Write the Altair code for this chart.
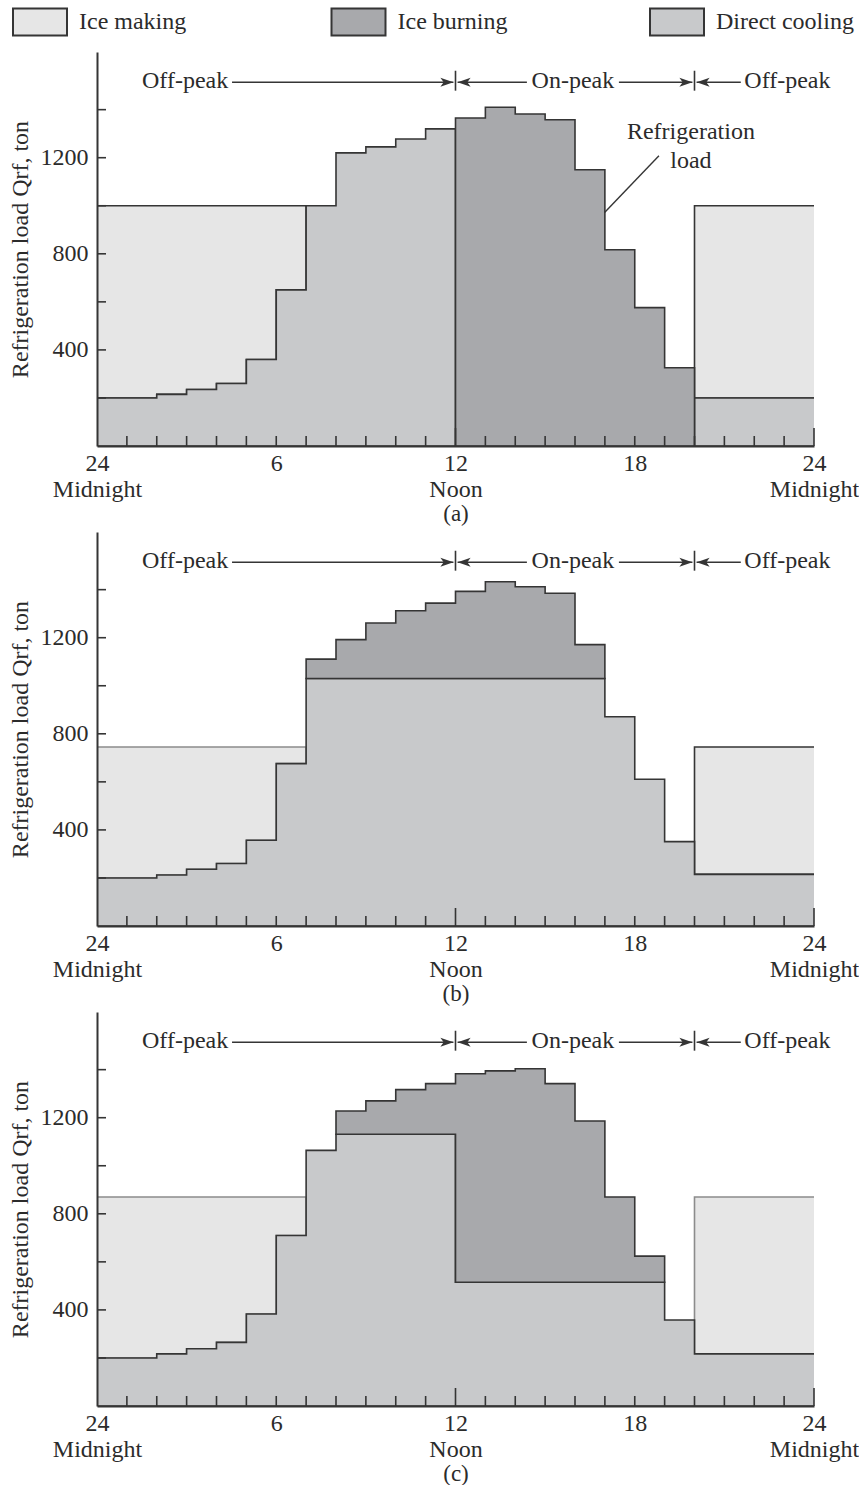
import json
import altair as alt
import pandas as pd

FONT = "Liberation Serif"
INK = "#2b2b2b"
LINE = "#353535"

HOURS = list(range(24))

# ---------------- data (ton) ----------------
LOAD_A = [200, 200, 215, 235, 260, 360, 650, 1000, 1220, 1245, 1278, 1320,
          1365, 1410, 1382, 1358, 1150, 817, 576, 326, 200, 200, 200, 200]
DIRECT_A = [200, 200, 215, 235, 260, 360, 650, 1000, 1220, 1245, 1278, 1320,
            0, 0, 0, 0, 0, 0, 0, 0, 200, 200, 200, 200]
MAKING_A = [1000, 1000, 1000, 1000, 1000, 1000, 1000, None, None, None, None, None,
            None, None, None, None, None, None, None, None, 1000, 1000, 1000, 1000]

LOAD_B = [200, 200, 212, 236, 260, 357, 676, 1111, 1192, 1261, 1312, 1344,
          1393, 1433, 1412, 1385, 1171, 871, 611, 351, 215, 215, 215, 215]
DIRECT_B = [200, 200, 212, 236, 260, 357, 676, 1030, 1030, 1030, 1030, 1030,
            1030, 1030, 1030, 1030, 1030, 871, 611, 351, 215, 215, 215, 215]
MAKING_B = [745, 745, 745, 745, 745, 745, 745, None, None, None, None, None,
            None, None, None, None, None, None, None, None, 745, 745, 745, 745]

LOAD_C = [200, 200, 217, 238, 265, 383, 710, 1064, 1228, 1270, 1317, 1342,
          1383, 1395, 1404, 1342, 1186, 870, 624, 358, 217, 217, 217, 217]
DIRECT_C = [200, 200, 217, 238, 265, 383, 710, 1064, 1131, 1131, 1131, 1131,
            515, 515, 515, 515, 515, 515, 515, 358, 217, 217, 217, 217]
MAKING_C = [870, 870, 870, 870, 870, 870, 870, None, None, None, None, None,
            None, None, None, None, None, None, None, None, 870, 870, 870, 870]

ZEROS = [0] * 24

LEGEND_LABELS = ["Ice making", "Ice burning", "Direct cooling"]
FILL_MAKING = "#e6e6e6"
FILL_BURNING = "#a8a9ac"
FILL_DIRECT = "#c8c9cb"
LEGEND_FILLS = [FILL_MAKING, FILL_BURNING, FILL_DIRECT]

X_TICKS = [0, 6, 12, 18, 24]
X_TICK_TEXT = [["24", "Midnight"], ["6"], ["12", "Noon"], ["18"], ["24", "Midnight"]]
Y_LABELS = [400, 800, 1200]
Y_TICKS = [200, 400, 600, 800, 1000, 1200, 1400]
X_MINOR = [h for h in range(1, 24) if h != 12]
X_MAJOR = [12, 24]

PERIOD_LABELS = ["Off-peak", "On-peak", "Off-peak"]
PERIOD_LABEL_HOURS = [2.95, 15.93, 23.11]
PERIOD_BOUNDS = [12, 20]
ARROW_TAILS = [4.52, 14.39, 17.47, 21.55]
ARROW_TIPS = [11.93, 12.07, 19.93, 20.07]
LABEL_Y = 1521
ARROW_Y = 1514
BAR_LO, BAR_HI = 1479, 1562

CALLOUT_LINES = ["Refrigeration", "load"]
CALLOUT_HOUR = 19.88
CALLOUT_Y = [1305, 1187]
LEADER = (18.81, 1208, 16.99, 972)

Y_MAX = 1640
W, H = 717, 394
END_PAD = 0.3

x_scale = alt.Scale(domain=[0, 24], nice=False, zero=False)
y_scale = alt.Scale(domain=[0, Y_MAX], nice=False)

label_expr = "".join(
    f"datum.value == {v} ? {json.dumps(t)} : " for v, t in zip(X_TICKS, X_TICK_TEXT)
) + "''"


def segments(top, bottom, tag):
    rows = []
    run = 0
    prev = None
    for h in HOURS:
        t, b = top[h], bottom[h]
        on = t is not None and b is not None and t > b
        if on:
            if prev is None:
                run += 1
            rows.append({"x": h, "lo": b, "hi": t, "seg": f"{tag}{run}", "run": run})
            prev = (b, t)
        elif prev is not None:
            rows.append({"x": h, "lo": prev[0], "hi": prev[1], "seg": f"{tag}{run}", "run": run})
            prev = None
    if prev is not None:
        rows.append({"x": 24 + END_PAD, "lo": prev[0], "hi": prev[1], "seg": f"{tag}{run}", "run": run})
    return pd.DataFrame(rows)


def panel(load, direct, making, making_edges, caption, callout=False):
    mk = segments(making, load, "m")
    mk["edge"] = [making_edges[r - 1] for r in mk["run"]]
    dc = segments(direct, ZEROS, "d")
    bn = segments(load, direct, "b")

    x_axis = alt.Axis(values=X_TICKS, labelExpr=label_expr, title=caption, ticks=False,
                      grid=False, labelFlush=False, labelPadding=5, labelLineHeight=26,
                      titlePadding=1, titleFontSize=23, zindex=1, labelAngle=0)
    y_axis = alt.Axis(values=Y_LABELS, format="d", ticks=False, grid=False,
                      title="Refrigeration load Qrf, ton", labelPadding=9,
                      titlePadding=8, zindex=1)

    making_area = alt.Chart(mk).mark_area(
        interpolate="step-after", fill=FILL_MAKING, strokeWidth=1.6, clip=True
    ).encode(
        x=alt.X("x:Q", scale=x_scale, axis=x_axis),
        y=alt.Y("lo:Q", scale=y_scale, axis=y_axis),
        y2="hi:Q",
        detail="seg:N",
        stroke=alt.Stroke("edge:N", scale=None),
    )
    direct_area = alt.Chart(dc).mark_area(
        interpolate="step-after", fill=FILL_DIRECT, stroke=LINE, strokeWidth=1.6, clip=True
    ).encode(x="x:Q", y="lo:Q", y2="hi:Q", detail="seg:N")
    burn_area = alt.Chart(bn).mark_area(
        interpolate="step-after", fill=FILL_BURNING, stroke=LINE, strokeWidth=1.6, clip=True
    ).encode(x="x:Q", y="lo:Q", y2="hi:Q", detail="seg:N")

    yt = alt.Chart(pd.DataFrame({"v": Y_TICKS})).mark_rule(color=LINE, strokeWidth=1.6).encode(
        y="v:Q", x=alt.value(0), x2=alt.value(9))
    xt_minor = alt.Chart(pd.DataFrame({"h": X_MINOR})).mark_rule(color=LINE, strokeWidth=1.6).encode(
        x="h:Q", y=alt.value(H), y2=alt.value(H - 10))
    xt_major = alt.Chart(pd.DataFrame({"h": X_MAJOR})).mark_rule(color=LINE, strokeWidth=1.6).encode(
        x="h:Q", y=alt.value(H), y2=alt.value(H - 18))

    plab = alt.Chart(pd.DataFrame({"x": PERIOD_LABEL_HOURS, "t": PERIOD_LABELS, "y": [LABEL_Y] * 3})).mark_text(
        fontSize=24, baseline="middle", align="center", color=INK).encode(x="x:Q", y="y:Q", text="t:N")
    bars = alt.Chart(pd.DataFrame({"x": PERIOD_BOUNDS, "y": [BAR_LO] * 2, "y2": [BAR_HI] * 2})).mark_rule(
        color=LINE, strokeWidth=1.6).encode(x="x:Q", y="y:Q", y2="y2:Q")
    arr = pd.DataFrame({"x": ARROW_TAILS, "x2": ARROW_TIPS, "y": [ARROW_Y] * 4})
    arr["ang"] = [0 if b > a else 180 for a, b in zip(ARROW_TAILS, ARROW_TIPS)]
    shafts = alt.Chart(arr).mark_rule(color=LINE, strokeWidth=1.5).encode(x="x:Q", x2="x2:Q", y="y:Q")
    heads = alt.Chart(arr).mark_point(
        shape="M0,0L-1,-0.35L-0.75,0L-1,0.35Z", size=676, filled=True, opacity=1, color=LINE
    ).encode(x="x2:Q", y="y:Q", angle=alt.Angle("ang:Q", scale=None))

    layers = [making_area, direct_area, burn_area, yt, xt_minor, xt_major, plab, bars, shafts, heads]

    if callout:
        ct = alt.Chart(pd.DataFrame({"x": [CALLOUT_HOUR] * 2, "y": CALLOUT_Y, "t": CALLOUT_LINES})).mark_text(
            fontSize=24, baseline="middle", align="center", color=INK).encode(x="x:Q", y="y:Q", text="t:N")
        ld = alt.Chart(pd.DataFrame({"x": [LEADER[0]], "y": [LEADER[1]], "x2": [LEADER[2]], "y2": [LEADER[3]]})).mark_rule(
            color=LINE, strokeWidth=1.4).encode(x="x:Q", y="y:Q", x2="x2:Q", y2="y2:Q")
        layers += [ct, ld]

    return alt.layer(*layers).properties(width=W, height=H)


pa = panel(LOAD_A, DIRECT_A, MAKING_A, [LINE, LINE], "(a)", callout=True)
pb = panel(LOAD_B, DIRECT_B, MAKING_B, ["#8c8c8c", LINE], "(b)")
pc = panel(LOAD_C, DIRECT_C, MAKING_C, ["#8c8c8c", "#8c8c8c"], "(c)")

legend_df = pd.DataFrame({"label": LEGEND_LABELS, "slot": [0, 1, 2], "fill": LEGEND_FILLS})
lx = alt.X("slot:Q", scale=alt.Scale(domain=[0, 2], range=[-57, 580]), axis=None)
boxes = alt.Chart(legend_df).mark_point(
    shape="M-1,-0.5L1,-0.5L1,0.5L-1,0.5Z", size=2916, filled=True, opacity=1,
    stroke=LINE, strokeWidth=2
).encode(x=lx, y=alt.value(22), fill=alt.Fill("fill:N", scale=None))
ltext = alt.Chart(legend_df).mark_text(align="left", baseline="middle", dx=39, fontSize=24, color=INK).encode(
    x=lx, y=alt.value(22), text="label:N")
legend = alt.layer(boxes, ltext).properties(width=W, height=45)

chart = alt.vconcat(legend, pa, pb, pc, spacing=7).properties(
    padding={"left": 8, "top": 0, "right": 0, "bottom": 0},
    autosize=alt.AutoSizeParams(type="pad"),
    background="white",
).configure(font=FONT).configure_view(stroke=None).configure_axis(
    labelFont=FONT, titleFont=FONT, labelFontSize=24, titleFontSize=24,
    titleFontWeight="normal", labelColor=INK, titleColor=INK,
    domainColor=LINE, domainWidth=2,
).configure_text(font=FONT)

chart.save("out.html", embed_options={"renderer": "svg", "actions": False})
